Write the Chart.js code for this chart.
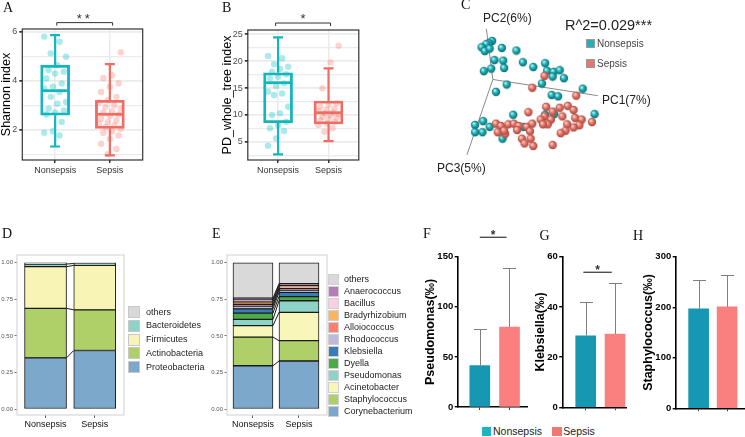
<!DOCTYPE html>
<html><head><meta charset="utf-8">
<script src="https://cdn.jsdelivr.net/npm/chart.js@4.4.1/dist/chart.umd.min.js"></script>
<style>
html,body{margin:0;padding:0;background:#fff;}
#page{position:relative;width:745px;height:437px;overflow:hidden;background:#fff;font-family:'Liberation Sans',Arial,sans-serif;}
canvas{position:absolute;}
.t{position:absolute;white-space:nowrap;line-height:1;color:#222;}
.letter{font-family:'Liberation Serif','Times New Roman',serif;color:#111;}
.sq{position:absolute;box-sizing:border-box;}
</style></head><body><div id="page"></div>
<script>
// ---------------- DATA ----------------
const groups = ['Nonsepsis', 'Sepsis'];

// A: Shannon index — box stats [lower whisker, Q1, median, Q3, upper whisker]
const shannonBoxNonsepsis = [1.33, 2.60, 3.60, 4.64, 5.86];
const shannonBoxSepsis = [0.97, 2.06, 2.64, 3.21, 4.68];
const shannonPtsNonsepsis = [5.80, 5.59, 5.12, 4.98, 4.64, 4.44, 4.37, 4.30, 4.10, 3.89, 3.76, 3.69, 3.55, 3.35, 3.14, 3.07, 2.87, 2.80, 2.71, 2.63, 2.33, 1.95, 1.89, 1.78];
const shannonPtsSepsis = [5.16, 4.23, 4.12, 3.89, 3.76, 3.55, 3.35, 3.21, 3.12, 3.01, 2.94, 2.87, 2.76, 2.71, 2.63, 2.57, 2.46, 2.39, 2.33, 2.26, 2.19, 2.12, 2.05, 1.95, 1.89, 1.78, 1.64, 1.44, 1.23, 1.02];
const shannonTickLabels = [2, 4, 6];
const shannonGridLines = [1, 2, 3, 4, 5, 6];

// B: PD whole tree index
const pdBoxNonsepsis = [2.65, 8.54, 15.99, 17.85, 24.44];
const pdBoxSepsis = [5.13, 8.30, 10.40, 12.58, 18.67];
const pdPtsNonsepsis = [20.96, 20.53, 19.41, 18.97, 18.54, 18.04, 17.55, 17.11, 16.80, 15.87, 15.37, 14.32, 14.00, 13.70, 11.52, 10.28, 9.97, 8.73, 8.11, 7.50, 7.00, 5.63, 4.26];
const pdPtsSepsis = [22.88, 19.78, 14.94, 12.15, 11.83, 11.52, 11.21, 10.90, 10.72, 10.47, 10.28, 10.10, 9.97, 9.66, 9.48, 9.23, 9.04, 8.73, 8.42, 8.11, 7.50, 6.87];
const pdTickLabels = [5, 10, 15, 20, 25];
const pdGridLines = [2.5, 5, 7.5, 10, 12.5, 15, 17.5, 20, 22.5, 25];

// C: PCoA projected scores [PC1-ish, PC2-ish] in the 3D view
const pcoaNonsepsis = [[-0.7,40.3],[-4,38],[-6.7,37],[-11.7,33.7],[-8.3,29.7],[-3.3,32.3],[9.3,33],[24.3,30.3],[1.7,20.3],[10.7,19.7],[31,18],[11.7,12],[41.7,13],[54,17],[-1.7,11.3],[-9.3,8.7],[56,9],[62.7,8],[69,9.7],[61.7,3],[73.3,1.3],[14.3,-5.3],[50.7,-4.3],[3.3,-13],[92.7,-9.7],[60.7,-16.3],[67.3,-17.7],[21,-37],[63.3,-36.3],[54,-37],[105,-36.3],[-10,-43.7],[-18.3,-47.7],[-10.7,-55.3],[-18.3,-55.3],[-3.3,-49.7],[10,-62],[31.7,-49.7]];
const pcoaSepsis = [[53.3,3.7],[40.7,-8.7],[86,-17],[36.7,-34.3],[55,-28.7],[69,-29.7],[77.3,-27.7],[61.7,-33.7],[71.7,-38.7],[83.3,-32],[85,-40.3],[91.7,-42],[89.3,-48],[83.3,-50.3],[76.7,-47],[75,-53.7],[70,-56.3],[53.3,-38.7],[49.3,-42],[60,-42],[56.7,-47],[51.7,-47],[3.3,-46.3],[8.3,-48.7],[16,-47],[21.7,-46.3],[26.7,-48.7],[35,-49.7],[40.7,-46.3],[25,-53],[38.3,-54.3],[12.7,-57],[5,-55.3],[30,-62],[39,-62],[32.7,-67],[41.7,-69.7],[61.7,-68.7],[11.7,-53.7],[102.3,-44.7]];
const pcAxis1 = [[0,0],[108.3,-17]];
const pcAxis2 = [[0,0],[-6.7,53]];
const pcAxis3 = [[0,0],[-26.7,-79]];

// D: phylum relative abundance (bottom to top)
const phyla = ['Proteobacteria','Actinobacteria','Firmicutes','Bacteroidetes','others'];
const phylumNonsepsis = [0.350, 0.338, 0.285, 0.018, 0.009];
const phylumSepsis = [0.400, 0.278, 0.304, 0.013, 0.005];

// E: genus relative abundance (bottom to top)
const genera = ['Corynebacterium','Staphylococcus','Acinetobacter','Pseudomonas','Dyella','Klebsiella','Rhodococcus','Alloiococcus','Bradyrhizobium','Bacillus','Anaerococcus','others'];
const genusNonsepsis = [0.296,0.196,0.078,0.043,0.043,0.029,0.018,0.013,0.017,0.013,0.012,0.242];
const genusSepsis = [0.328,0.139,0.194,0.079,0.028,0.029,0.016,0.012,0.009,0.011,0.012,0.143];
const abundanceTicks = [0, 0.25, 0.5, 0.75, 1];
const abundanceTickLabels = ['0.00','0.25','0.50','0.75','1.00'];

// F-H: mean and SD (‰)
const pseudomonasMean = [41.3, 79.7];
const pseudomonasSD = [37.0, 59.0];
const klebsiellaMean = [28.5, 29.2];
const klebsiellaSD = [13.5, 20.3];
const staphylococcusMean = [196.6, 200.6];
const staphylococcusSD = [58.0, 62.7];
const pseudomonasTicks = [0, 50, 100, 150];
const klebsiellaTicks = [0, 20, 40, 60];
const staphylococcusTicks = [0, 100, 200, 300];

// ---------------- STYLE ----------------
const boxColors = ['#13b6bb', '#ef6d64'];
const ptColors = ['rgba(0,191,196,0.33)', 'rgba(248,118,109,0.33)'];
const phylumColors = ['#7ba8cb', '#afd068', '#f7f4b6', '#8dd3c7', '#d9d9d9'];
const genusColors = ['#7ba8cb','#afd068','#f8f6b8','#8dd3c7','#4aaa4a','#377eb8','#bebada','#fb8072','#fdb462','#fccde5','#b57bbb','#d9d9d9'];
const barColors = ['#1798b2', '#fa8080'];

Chart.defaults.font.family = "'Liberation Sans', Arial, sans-serif";
const page = document.getElementById('page');
let pid = 0;

function mk(box, area, config) {
  const c = document.createElement('canvas');
  c.width = box.w; c.height = box.h;
  c.style.left = box.l + 'px'; c.style.top = box.t + 'px';
  page.appendChild(c);
  const o = config.options;
  o.responsive = false; o.animation = false; o.devicePixelRatio = 1;
  o.layout = { padding: { left: 0, top: area.y0 - box.t, right: box.l + box.w - area.x1, bottom: 0 } };
  o.scales.x.offset = false;
  o.scales.x.grid = Object.assign({ offset: false }, o.scales.x.grid || {});
  if (o.scales.y.display !== false) o.scales.y.afterFit = s => { s.width = area.x0 - box.l; };
  else o.layout.padding.left = area.x0 - box.l;
  if (o.scales.x.display !== false) o.scales.x.afterFit = s => { s.height = box.t + box.h - area.y1; };
  else o.layout.padding.bottom = box.t + box.h - area.y1;
  o.plugins = Object.assign({ legend: { display: false }, tooltip: { enabled: false } }, o.plugins || {});
  return new Chart(c, config);
}

function frameP(color, width) {
  return { id: 'frame' + (pid++), afterDatasetsDraw(chart) {
    const a = chart.chartArea, ctx = chart.ctx;
    ctx.save(); ctx.strokeStyle = color; ctx.lineWidth = width;
    ctx.strokeRect(a.left, a.top, a.right - a.left, a.bottom - a.top); ctx.restore();
  }};
}
function boxP(stats, colors) {
  return { id: 'box' + (pid++), afterDatasetsDraw(chart) {
    const x = chart.scales.x, y = chart.scales.y, ctx = chart.ctx;
    stats.forEach((s, i) => {
      const cx = x.getPixelForValue(i);
      const p = s.map(v => y.getPixelForValue(v));
      ctx.save(); ctx.strokeStyle = colors[i]; ctx.lineWidth = 2.2;
      ctx.beginPath();
      ctx.moveTo(cx, p[1]); ctx.lineTo(cx, p[0]); ctx.moveTo(cx - 5, p[0]); ctx.lineTo(cx + 5, p[0]);
      ctx.moveTo(cx, p[3]); ctx.lineTo(cx, p[4]); ctx.moveTo(cx - 5, p[4]); ctx.lineTo(cx + 5, p[4]);
      ctx.stroke();
      ctx.lineWidth = 2.8; ctx.beginPath(); ctx.moveTo(cx - 14, p[2]); ctx.lineTo(cx + 14, p[2]); ctx.stroke();
      ctx.restore();
    });
  }};
}
function bracketP(b) {
  return { id: 'br' + (pid++), afterDraw(chart) {
    const x = chart.scales.x, y = chart.scales.y, ctx = chart.ctx;
    const x0 = x.getPixelForValue(b.from), x1 = x.getPixelForValue(b.to), yy = y.getPixelForValue(b.at);
    ctx.save(); ctx.strokeStyle = b.color; ctx.lineWidth = b.width;
    ctx.beginPath();
    if (b.tick) { ctx.moveTo(x0, yy + b.tick); ctx.lineTo(x0, yy); ctx.lineTo(x1, yy); ctx.lineTo(x1, yy + b.tick); }
    else { ctx.moveTo(x0, yy); ctx.lineTo(x1, yy); }
    ctx.stroke();
    ctx.fillStyle = b.color; ctx.font = b.font; ctx.textAlign = 'center'; ctx.textBaseline = 'alphabetic';
    if (b.spacing) ctx.letterSpacing = b.spacing;
    ctx.fillText(b.label, (x0 + x1) / 2, yy + b.dy);
    ctx.restore();
  }};
}
function errorP(means, sds) {
  return { id: 'err' + (pid++), afterDatasetsDraw(chart) {
    const x = chart.scales.x, y = chart.scales.y, ctx = chart.ctx;
    ctx.save(); ctx.strokeStyle = '#808080'; ctx.lineWidth = 1;
    means.forEach((m, i) => {
      const cx = Math.round(x.getPixelForValue(i)) + 0.5;
      const y0 = y.getPixelForValue(m), y1 = Math.round(y.getPixelForValue(m + sds[i])) + 0.5;
      ctx.beginPath(); ctx.moveTo(cx, y0); ctx.lineTo(cx, y1); ctx.moveTo(cx - 6.5, y1); ctx.lineTo(cx + 6.5, y1); ctx.stroke();
    });
    ctx.restore();
  }};
}
function connectP() {
  return { id: 'con' + (pid++), afterDatasetsDraw(chart) {
    const ctx = chart.ctx;
    ctx.save(); ctx.strokeStyle = '#1a1a1a'; ctx.lineWidth = 1;
    chart.data.datasets.forEach((d, k) => {
      const meta = chart.getDatasetMeta(k);
      const b0 = meta.data[0], b1 = meta.data[1];
      if (k === chart.data.datasets.length - 1) return;
      ctx.beginPath(); ctx.moveTo(b0.x + b0.width / 2, b0.y); ctx.lineTo(b1.x - b1.width / 2, b1.y); ctx.stroke();
    });
    ctx.restore();
  }};
}

const jit = i => (((i * 7) % 11) - 5) / 5 * 0.2;

function boxPanel(box, area, yr, gridVals, tickVals, title, stats, pts, br) {
  return mk(box, area, {
    type: 'bar',
    data: { datasets: [
      { type: 'bar', data: stats.map((s, i) => ({ x: i, y: [s[1], s[3]] })), backgroundColor: 'rgba(255,255,255,0)', borderColor: boxColors, borderWidth: 2.2, borderSkipped: false, barThickness: 29 },
      { type: 'scatter', data: pts[0].map((v, i) => ({ x: jit(i), y: v })), backgroundColor: ptColors[0], pointRadius: 3.2, borderWidth: 0 },
      { type: 'scatter', data: pts[1].map((v, i) => ({ x: 1 + jit(i + 3), y: v })), backgroundColor: ptColors[1], pointRadius: 3.2, borderWidth: 0 }
    ]},
    options: { scales: {
      x: { type: 'linear', min: -0.6, max: 1.6,
        afterBuildTicks: s => { s.ticks = groups.map((g, i) => ({ value: i })); },
        ticks: { callback: v => groups[v], font: { size: 9 }, color: '#333', padding: 2, autoSkip: false, maxRotation: 0 },
        grid: { color: '#ebebeb', lineWidth: 1.5, tickColor: '#333', tickLength: 3 }, border: { display: false } },
      y: { type: 'linear', min: yr[0], max: yr[1],
        afterBuildTicks: s => { s.ticks = gridVals.map(v => ({ value: v })); },
        ticks: { callback: v => tickVals.includes(v) ? String(v) : '', font: { size: 9 }, color: '#4d4d4d', padding: 2, autoSkip: false },
        grid: { color: '#ebebeb', lineWidth: c => (c.tick && tickVals.includes(c.tick.value)) ? 1.7 : 1.2,
          tickColor: c => (c.tick && tickVals.includes(c.tick.value)) ? '#333' : 'rgba(0,0,0,0)', tickLength: 3 },
        border: { display: false },
        title: { display: true, text: title, font: { size: 12.5 }, color: '#000', padding: 0 } }
    }},
    plugins: [frameP('#333', 1.2), boxP(stats, boxColors), bracketP(br)]
  });
}

function stackPanel(box, area, xr, thick, names, colors, valsN, valsS) {
  return mk(box, area, {
    type: 'bar',
    data: { datasets: names.map((n, k) => ({ label: n, data: [{ x: 0, y: valsN[k] }, { x: 1, y: valsS[k] }], backgroundColor: colors[k], borderColor: '#1a1a1a', borderWidth: 1, borderSkipped: false, barThickness: thick })) },
    options: { scales: {
      x: { type: 'linear', stacked: true, min: xr[0], max: xr[1],
        afterBuildTicks: s => { s.ticks = groups.map((g, i) => ({ value: i })); },
        ticks: { callback: v => groups[v], font: { size: 9 }, color: '#111', padding: 1.5, autoSkip: false, maxRotation: 0 },
        grid: { drawOnChartArea: false, color: '#666', tickLength: 3 }, border: { display: false } },
      y: { type: 'linear', stacked: true, min: -0.041, max: 1.053,
        afterBuildTicks: s => { s.ticks = abundanceTicks.map(v => ({ value: v })); },
        ticks: { callback: (v, i) => abundanceTickLabels[i], font: { size: 6 }, color: '#555', padding: 1.5, autoSkip: false },
        grid: { drawOnChartArea: false, color: '#777', tickLength: 2.5 }, border: { display: false } }
    }},
    plugins: [frameP('#cfcfcf', 1), connectP()]
  });
}

function barPanel(box, area, xr, yMax, ticks, title, means, sds, br) {
  return mk(box, area, {
    type: 'bar',
    data: { datasets: [{ data: means.map((m, i) => ({ x: i, y: m })), backgroundColor: barColors, borderWidth: 0, barThickness: 20 }] },
    options: { scales: {
      x: { type: 'linear', min: xr[0], max: xr[1],
        afterBuildTicks: s => { s.ticks = groups.map((g, i) => ({ value: i })); },
        ticks: { callback: () => '', padding: 0, autoSkip: false },
        grid: { drawOnChartArea: false, color: '#444', tickLength: 3, lineWidth: 1 }, border: { display: true, color: '#000', width: 1.6 } },
      y: { type: 'linear', min: 0, max: yMax,
        afterBuildTicks: s => { s.ticks = ticks.map(v => ({ value: v })); },
        ticks: { font: { size: 9.5, weight: 'bold' }, color: '#000', padding: 1.5, autoSkip: false },
        grid: { drawOnChartArea: false, color: '#000', tickLength: 3.5, lineWidth: 1.4 }, border: { display: true, color: '#000', width: 1.6 },
        title: { display: true, text: title, font: { size: 12.5, weight: 'bold' }, color: '#000', padding: 0 } }
    }},
    plugins: br ? [errorP(means, sds), bracketP(br)] : [errorP(means, sds)]
  });
}

function sphere(base, dark, light, r) {
  const c = document.createElement('canvas');
  const s = Math.ceil(r * 2) + 1; c.width = c.height = s;
  const g = c.getContext('2d');
  const gr = g.createRadialGradient(s / 2 - r * 0.35, s / 2 - r * 0.4, r * 0.1, s / 2, s / 2, r);
  gr.addColorStop(0, light); gr.addColorStop(0.45, base); gr.addColorStop(1, dark);
  g.fillStyle = gr; g.beginPath(); g.arc(s / 2, s / 2, r, 0, Math.PI * 2); g.fill();
  return c;
}

// ---------------- PANELS ----------------
// A
boxPanel({ l: -1, t: 0, w: 150, h: 185 }, { x0: 22.3, y0: 29, x1: 142.7, y1: 160 }, [0.78, 6.11],
  shannonGridLines, shannonTickLabels, 'Shannon index',
  [shannonBoxNonsepsis, shannonBoxSepsis], [shannonPtsNonsepsis, shannonPtsSepsis],
  { from: 0.03, to: 1.05, at: 6.37, tick: 3, color: '#333', width: 1, label: '**', font: '13px "Liberation Sans", Arial', dy: 0.8, spacing: '3px' });
// B
boxPanel({ l: 219.5, t: 0, w: 145, h: 185 }, { x0: 247.3, y0: 30, x1: 358.3, y1: 160 }, [1.6, 25.8],
  pdGridLines, pdTickLabels, 'PD_whole_tree index',
  [pdBoxNonsepsis, pdBoxSepsis], [pdPtsNonsepsis, pdPtsSepsis],
  { from: -0.05, to: 1.04, at: 27.1, tick: 3, color: '#333', width: 1, label: '*', font: '13px "Liberation Sans", Arial', dy: -0.5 });

// C
const sphT = sphere('#1fb3b9', '#0a6a70', '#bff5f5', 4.2);
const sphR = sphere('#e8776b', '#a3453c', '#ffd6cc', 4.2);
mk({ l: 420, t: 0, w: 325, h: 220 }, { x0: 420, y0: 0, x1: 745, y1: 220 }, {
  type: 'scatter',
  data: { datasets: [
    { data: pcoaSepsis.map(p => ({ x: p[0], y: p[1] })), pointStyle: sphR, pointRadius: 4 },
    { data: pcoaNonsepsis.map(p => ({ x: p[0], y: p[1] })), pointStyle: sphT, pointRadius: 4 },
    { data: pcAxis1.map(p => ({ x: p[0], y: p[1] })), showLine: true, pointRadius: 0, borderColor: '#8a8a8a', borderWidth: 1 },
    { data: pcAxis2.map(p => ({ x: p[0], y: p[1] })), showLine: true, pointRadius: 0, borderColor: '#8a8a8a', borderWidth: 1 },
    { data: pcAxis3.map(p => ({ x: p[0], y: p[1] })), showLine: true, pointRadius: 0, borderColor: '#8a8a8a', borderWidth: 1 }
  ]},
  options: { scales: { x: { type: 'linear', display: false, min: -70, max: 255 }, y: { type: 'linear', display: false, min: -142, max: 78 } } }
});

// D
stackPanel({ l: 0, t: 230, w: 130, h: 205 }, { x0: 17, y0: 255, x1: 124, y1: 415 }, [-0.58, 1.595], 42,
  phyla, phylumColors, phylumNonsepsis, phylumSepsis);
// E
stackPanel({ l: 205, t: 230, w: 125, h: 205 }, { x0: 227, y0: 255, x1: 327, y1: 415 }, [-0.565, 1.609], 40,
  genera, genusColors, genusNonsepsis, genusSepsis);

// F
barPanel({ l: 422.5, t: 220, w: 110, h: 200 }, { x0: 457.7, y0: 256.7, x1: 526.7, y1: 407 }, [-0.727, 1.596], 150,
  pseudomonasTicks, 'Pseudomonas(‰)', pseudomonasMean, pseudomonasSD,
  { from: 0, to: 0.9, at: 169.4, tick: 0, color: '#333', width: 1.2, label: '*', font: 'bold 12px "Liberation Sans", Arial', dy: 1.4 });
// G
barPanel({ l: 533, t: 220, w: 95, h: 200 }, { x0: 562.7, y0: 256.7, x1: 626, y1: 407.3 }, [-0.785, 1.375], 60,
  klebsiellaTicks, 'Klebsiella(‰)', klebsiellaMean, klebsiellaSD,
  { from: -0.08, to: 0.89, at: 53.8, tick: 0, color: '#333', width: 1.2, label: '*', font: 'bold 12px "Liberation Sans", Arial', dy: 1.4 });
// H
barPanel({ l: 640.5, t: 220, w: 104.5, h: 200 }, { x0: 675.7, y0: 256.7, x1: 745, y1: 408.3 }, [-0.787, 1.627], 300,
  staphylococcusTicks, 'Staphylococcus(‰)', staphylococcusMean, staphylococcusSD, null);

// ---------------- TEXT / LEGENDS ----------------
function txt(s, x, cy, size, extra, cls) {
  const d = document.createElement('div'); d.className = 't' + (cls ? ' ' + cls : ''); d.textContent = s;
  d.style.left = x + 'px'; d.style.top = (cy - size / 2) + 'px'; d.style.fontSize = size + 'px';
  if (extra) Object.assign(d.style, extra);
  page.appendChild(d); return d;
}
function sq(x, y, w, h, color, border) {
  const d = document.createElement('div'); d.className = 'sq';
  Object.assign(d.style, { left: x + 'px', top: y + 'px', width: w + 'px', height: h + 'px', background: color, border: border || 'none' });
  page.appendChild(d);
}
// panel letters
[['A', 3, 8], ['B', 222, 8], ['C', 461, 5], ['D', 2, 234], ['E', 212, 234], ['F', 423, 234], ['G', 539.5, 236], ['H', 633, 236]]
  .forEach(l => txt(l[0], l[1], l[2], 14, null, 'letter'));

// C annotations
txt('PC2(6%)', 483, 18, 12);
txt('PC1(7%)', 602, 100, 12);
txt('PC3(5%)', 437, 168, 12);
txt('R^2=0.029***', 565, 25, 14.5);
sq(586, 39, 9, 9, '#1fb3b9', '1px solid #9a9a9a');
txt(groups[0], 597, 43.5, 10, { color: '#444' });
sq(586, 59, 9, 9, '#e8776b', '1px solid #9a9a9a');
txt(groups[1], 597, 63.5, 10, { color: '#444' });

// D legend (top to bottom = reverse stack order)
phyla.slice().reverse().forEach((n, k) => {
  const cy = 312 + k * 13.8;
  sq(128, cy - 6, 12, 12, phylumColors[phyla.length - 1 - k], '1px solid #c8c8c8');
  txt(n, 146, cy, 9, { color: '#222' });
});
// E legend
genera.slice().reverse().forEach((n, k) => {
  const cy = 279 + k * 12;
  sq(328, cy - 5.5, 11, 11, genusColors[genera.length - 1 - k], '1px solid #d0d0d0');
  txt(n, 344, cy, 9, { color: '#222' });
});
// bottom legend
sq(481.7, 426.7, 9.3, 9, '#1cb5bf');
txt(groups[0], 493, 431.2, 10.5, { color: '#222' });
sq(552, 426.7, 9.5, 9, '#f07670');
txt(groups[1], 563.3, 431.2, 10.5, { color: '#222' });
</script>
</body></html>
